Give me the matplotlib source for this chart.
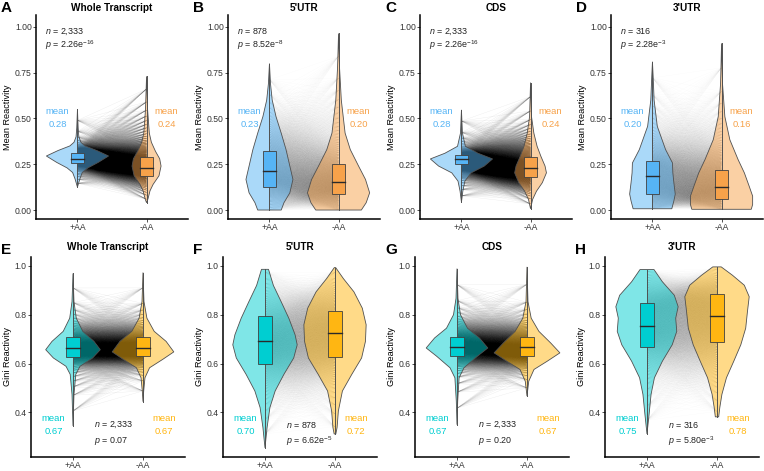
import numpy as np
import matplotlib
matplotlib.use("Agg")
import matplotlib.pyplot as plt
from matplotlib.collections import LineCollection
from matplotlib.colors import to_rgba

plt.rcParams["font.family"] = ["Liberation Sans", "DejaVu Sans"]
plt.rcParams["mathtext.fontset"] = "custom"
plt.rcParams["mathtext.rm"] = "Liberation Sans"
plt.rcParams["mathtext.it"] = "Liberation Sans:italic"

# ---- data ----
letters = ["A", "B", "C", "D", "E", "F", "G", "H"]
titles = ["Whole Transcript", "5'UTR", "CDS", "3'UTR"] * 2
groups = ["+AA", "-AA"]
n_text = ["2,333", "878", "2,333", "316", "2,333", "878", "2,333", "316"]
p_text = [r"2.26e$^{-16}$", r"8.52e$^{-8}$", r"2.26e$^{-16}$", r"2.28e$^{-3}$",
          "0.07", r"6.62e$^{-5}$", "0.20", r"5.80e$^{-3}$"]
mean_plus = [0.28, 0.23, 0.28, 0.20, 0.67, 0.70, 0.67, 0.75]
mean_minus = [0.24, 0.20, 0.24, 0.16, 0.67, 0.72, 0.67, 0.78]

q1_plus = [0.257, 0.125, 0.254, 0.090, 0.627, 0.599, 0.630, 0.668]
med_plus = [0.280, 0.215, 0.279, 0.185, 0.664, 0.691, 0.667, 0.756]
q3_plus = [0.311, 0.320, 0.300, 0.268, 0.707, 0.793, 0.707, 0.847]
q1_minus = [0.187, 0.085, 0.181, 0.058, 0.630, 0.626, 0.630, 0.687]
med_minus = [0.232, 0.152, 0.230, 0.125, 0.664, 0.725, 0.667, 0.795]
q3_minus = [0.287, 0.252, 0.288, 0.221, 0.707, 0.816, 0.707, 0.883]

# violin outlines: (value, half width) from top to bottom
A_plus = [(0.55, 0.0), (0.45, 0.01), (0.40, 0.02), (0.37, 0.05), (0.35, 0.11), (0.325, 0.28),
          (0.295, 0.45), (0.26, 0.30), (0.23, 0.15), (0.205, 0.07), (0.17, 0.035), (0.125, 0.0)]
A_minus = [(0.73, 0.0), (0.55, 0.015), (0.42, 0.04), (0.37, 0.07), (0.32, 0.13), (0.28, 0.19),
           (0.24, 0.21), (0.187, 0.18), (0.14, 0.095), (0.105, 0.05), (0.06, 0.02), (0.04, 0.0)]
B_plus = [(0.80, 0.0), (0.69, 0.015), (0.60, 0.04), (0.51, 0.095), (0.42, 0.17), (0.33, 0.24),
          (0.24, 0.295), (0.167, 0.34), (0.094, 0.295), (0.04, 0.21), (0.0, 0.17)]
B_minus = [(0.964, 0.0), (0.78, 0.014), (0.60, 0.04), (0.42, 0.095), (0.33, 0.17), (0.24, 0.29),
           (0.167, 0.39), (0.094, 0.45), (0.04, 0.40), (0.0, 0.33)]
C_plus = [(0.547, 0.0), (0.42, 0.014), (0.348, 0.057), (0.31, 0.24), (0.279, 0.45), (0.24, 0.33),
          (0.203, 0.14), (0.158, 0.05), (0.103, 0.02), (0.043, 0.0)]
C_minus = [(0.696, 0.0), (0.51, 0.014), (0.42, 0.048), (0.348, 0.095), (0.293, 0.15), (0.24, 0.21),
           (0.203, 0.23), (0.149, 0.17), (0.103, 0.086), (0.058, 0.03), (0.007, 0.0)]
D_plus = [(0.81, 0.0), (0.73, 0.01), (0.60, 0.024), (0.457, 0.07), (0.33, 0.19), (0.257, 0.29),
          (0.203, 0.295), (0.149, 0.31), (0.087, 0.33), (0.05, 0.31), (0.007, 0.28)]
D_minus = [(0.91, 0.0), (0.69, 0.014), (0.51, 0.048), (0.384, 0.12), (0.275, 0.24), (0.203, 0.33),
           (0.13, 0.40), (0.076, 0.45), (0.03, 0.45), (0.004, 0.43)]
E_plus = [(0.969, 0.0), (0.854, 0.014), (0.786, 0.047), (0.732, 0.14), (0.691, 0.30), (0.657, 0.39),
          (0.623, 0.28), (0.589, 0.10), (0.556, 0.04), (0.474, 0.014), (0.345, 0.0)]
E_minus = [(0.973, 0.0), (0.854, 0.014), (0.786, 0.056), (0.732, 0.16), (0.691, 0.33), (0.648, 0.44),
           (0.617, 0.28), (0.583, 0.094), (0.542, 0.028), (0.488, 0.01), (0.444, 0.0)]
F_plus = [(0.986, 0.05), (0.92, 0.12), (0.854, 0.23), (0.786, 0.34), (0.718, 0.43), (0.677, 0.46),
          (0.623, 0.41), (0.556, 0.27), (0.488, 0.145), (0.42, 0.07), (0.339, 0.03), (0.255, 0.0)]
F_minus = [(0.993, 0.01), (0.948, 0.12), (0.894, 0.27), (0.827, 0.39), (0.759, 0.445), (0.691, 0.435),
           (0.623, 0.38), (0.556, 0.24), (0.488, 0.106), (0.406, 0.048), (0.339, 0.03), (0.312, 0.012)]
G_plus = [(0.989, 0.0), (0.867, 0.014), (0.80, 0.05), (0.745, 0.15), (0.705, 0.32), (0.664, 0.44),
          (0.63, 0.29), (0.583, 0.10), (0.542, 0.03), (0.447, 0.01), (0.35, 0.0)]
G_minus = [(0.996, 0.0), (0.854, 0.014), (0.786, 0.06), (0.732, 0.17), (0.684, 0.34), (0.644, 0.47),
           (0.61, 0.29), (0.576, 0.10), (0.528, 0.025), (0.467, 0.0)]
H_plus = [(0.985, 0.10), (0.935, 0.22), (0.88, 0.39), (0.833, 0.445), (0.786, 0.41), (0.732, 0.425),
          (0.677, 0.36), (0.61, 0.22), (0.542, 0.106), (0.474, 0.058), (0.393, 0.03), (0.312, 0.0)]
H_minus = [(0.996, 0.06), (0.962, 0.22), (0.921, 0.39), (0.874, 0.46), (0.813, 0.435), (0.745, 0.41),
           (0.677, 0.34), (0.61, 0.24), (0.542, 0.135), (0.474, 0.07), (0.42, 0.04), (0.382, 0.024)]

violins_plus = [A_plus, B_plus, C_plus, D_plus, E_plus, F_plus, G_plus, H_plus]
violins_minus = [A_minus, B_minus, C_minus, D_minus, E_minus, F_minus, G_minus, H_minus]

# ---- styling ----
top_cols = ("#56B4F5", "#F7A24A")
bot_cols = ("#00CED1", "#FFB612")
line_alpha = [0.075, 0.02, 0.075, 0.02, 0.075, 0.02, 0.075, 0.02]
line_spread = [0.28, 0.35, 0.28, 0.35, 0.22, 0.35, 0.22, 0.35]


def violin_xy(prof, x):
    y = np.array([p[0] for p in prof])
    w = np.array([p[1] for p in prof])
    return np.concatenate([x + w, (x - w)[::-1]]), np.concatenate([y, y[::-1]])


def quantiles(prof, levels):
    y = np.array([p[0] for p in prof])[::-1]
    w = np.array([p[1] for p in prof])[::-1]
    yy = np.linspace(y[0], y[-1], 400)
    ww = np.interp(yy, y, w)
    cdf = np.cumsum(ww)
    cdf = (cdf - cdf[0]) / (cdf[-1] - cdf[0])
    return np.interp(levels, cdf, yy)


fig = plt.figure(figsize=(7.64, 4.71), dpi=100)
W, H = 764.0, 471.0
top_left = [36, 228, 420, 611]
bot_left = [31, 223, 415, 605]

for k in range(8):
    top = k < 4
    left = top_left[k % 4] if top else bot_left[k % 4]
    if top:
        ax = fig.add_axes([left / W, 1 - 219 / H, 152 / W, 204 / H])
        ax.set_ylim(-0.049, 1.065)
        ax.set_yticks([0, 0.25, 0.5, 0.75, 1.0])
        ax.set_yticklabels(["0.00", "0.25", "0.50", "0.75", "1.00"])
        ax.set_ylabel("Mean Reactivity", fontsize=6.6, labelpad=2)
        cols = top_cols
    else:
        ax = fig.add_axes([left / W, 1 - 457 / H, 154 / W, 200 / H])
        ax.set_ylim(0.2176, 1.0365)
        ax.set_yticks([0.4, 0.6, 0.8, 1.0])
        ax.set_yticklabels(["0.4", "0.6", "0.8", "1.0"])
        ax.set_ylabel("Gini Reactivity", fontsize=6.6, labelpad=2)
        cols = bot_cols
    ax.set_xlim(0.4, 2.6)

    # paired lines between matching quantiles of the two conditions
    levels = np.linspace(0.004, 0.996, 80)
    qa = quantiles(violins_plus[k], levels)
    qb = quantiles(violins_minus[k], levels)
    segs, rgba = [], []
    for i in range(len(levels)):
        for j in range(len(levels)):
            wgt = np.exp(-((levels[i] - levels[j]) / line_spread[k]) ** 2)
            if wgt > 0.03:
                segs.append([(1, qa[i]), (2, qb[j])])
                rgba.append((0, 0, 0, min(1.0, line_alpha[k] * wgt)))
    ax.add_collection(LineCollection(segs, colors=rgba, linewidths=0.3, zorder=1))

    stats = [(violins_plus[k], q1_plus[k], med_plus[k], q3_plus[k]),
             (violins_minus[k], q1_minus[k], med_minus[k], q3_minus[k])]
    for g, (prof, q1, med, q3) in enumerate(stats):
        x = g + 1
        vx, vy = violin_xy(prof, x)
        ax.fill(vx, vy, facecolor=to_rgba(cols[g], 0.5), edgecolor="#505050", lw=0.6, zorder=2)
        ax.plot([x, x], [prof[-1][0], prof[0][0]], color="#505050", lw=0.7, zorder=3)
        ax.add_patch(plt.Rectangle((x - 0.095, q1), 0.19, q3 - q1, facecolor=cols[g],
                                   edgecolor="#404040", lw=0.6, zorder=4))
        ax.plot([x - 0.095, x + 0.095], [med, med], color="#2a2a2a", lw=1.0, zorder=5)

    if top:
        ax.text(0.71, 0.54, "mean", color=top_cols[0], fontsize=6.8, ha="center", va="center")
        ax.text(0.71, 0.465, "%.2f" % mean_plus[k], color=top_cols[0], fontsize=6.8, ha="center", va="center")
        ax.text(2.29, 0.54, "mean", color=top_cols[1], fontsize=6.8, ha="center", va="center")
        ax.text(2.29, 0.465, "%.2f" % mean_minus[k], color=top_cols[1], fontsize=6.8, ha="center", va="center")
        ax.text(0.53, 0.975, r"$n$ = " + n_text[k], fontsize=6.4, ha="left", va="center", color="#222222")
        ax.text(0.53, 0.90, r"$p$ = " + p_text[k], fontsize=6.4, ha="left", va="center", color="#222222")
    else:
        ax.text(0.72, 0.377, "mean", color=bot_cols[0], fontsize=6.8, ha="center", va="center")
        ax.text(0.72, 0.322, "%.2f" % mean_plus[k], color=bot_cols[0], fontsize=6.8, ha="center", va="center")
        ax.text(2.3, 0.377, "mean", color=bot_cols[1], fontsize=6.8, ha="center", va="center")
        ax.text(2.3, 0.322, "%.2f" % mean_minus[k], color=bot_cols[1], fontsize=6.8, ha="center", va="center")
        ax.text(1.3, 0.35, r"$n$ = " + n_text[k], fontsize=6.4, ha="left", va="center", color="#222222")
        ax.text(1.3, 0.282, r"$p$ = " + p_text[k], fontsize=6.4, ha="left", va="center", color="#222222")

    ax.set_xticks([1, 2])
    ax.set_xticklabels(groups)
    ax.tick_params(labelsize=6.2, length=2, width=0.6, color="#333333", labelcolor="#333333", pad=1)
    for s in ["top", "right"]:
        ax.spines[s].set_visible(False)
    for s in ["left", "bottom"]:
        ax.spines[s].set_linewidth(1.1)
    ax.set_title(titles[k], fontsize=7.2, fontweight="bold", pad=3 if top else 5)
    fig.text((left - 35 if top else left - 30) / W, (1 - 8 / H) if top else (1 - 250 / H), letters[k],
             fontsize=11, fontweight="bold", ha="left", va="center")

fig.savefig("out.png", dpi=100)
